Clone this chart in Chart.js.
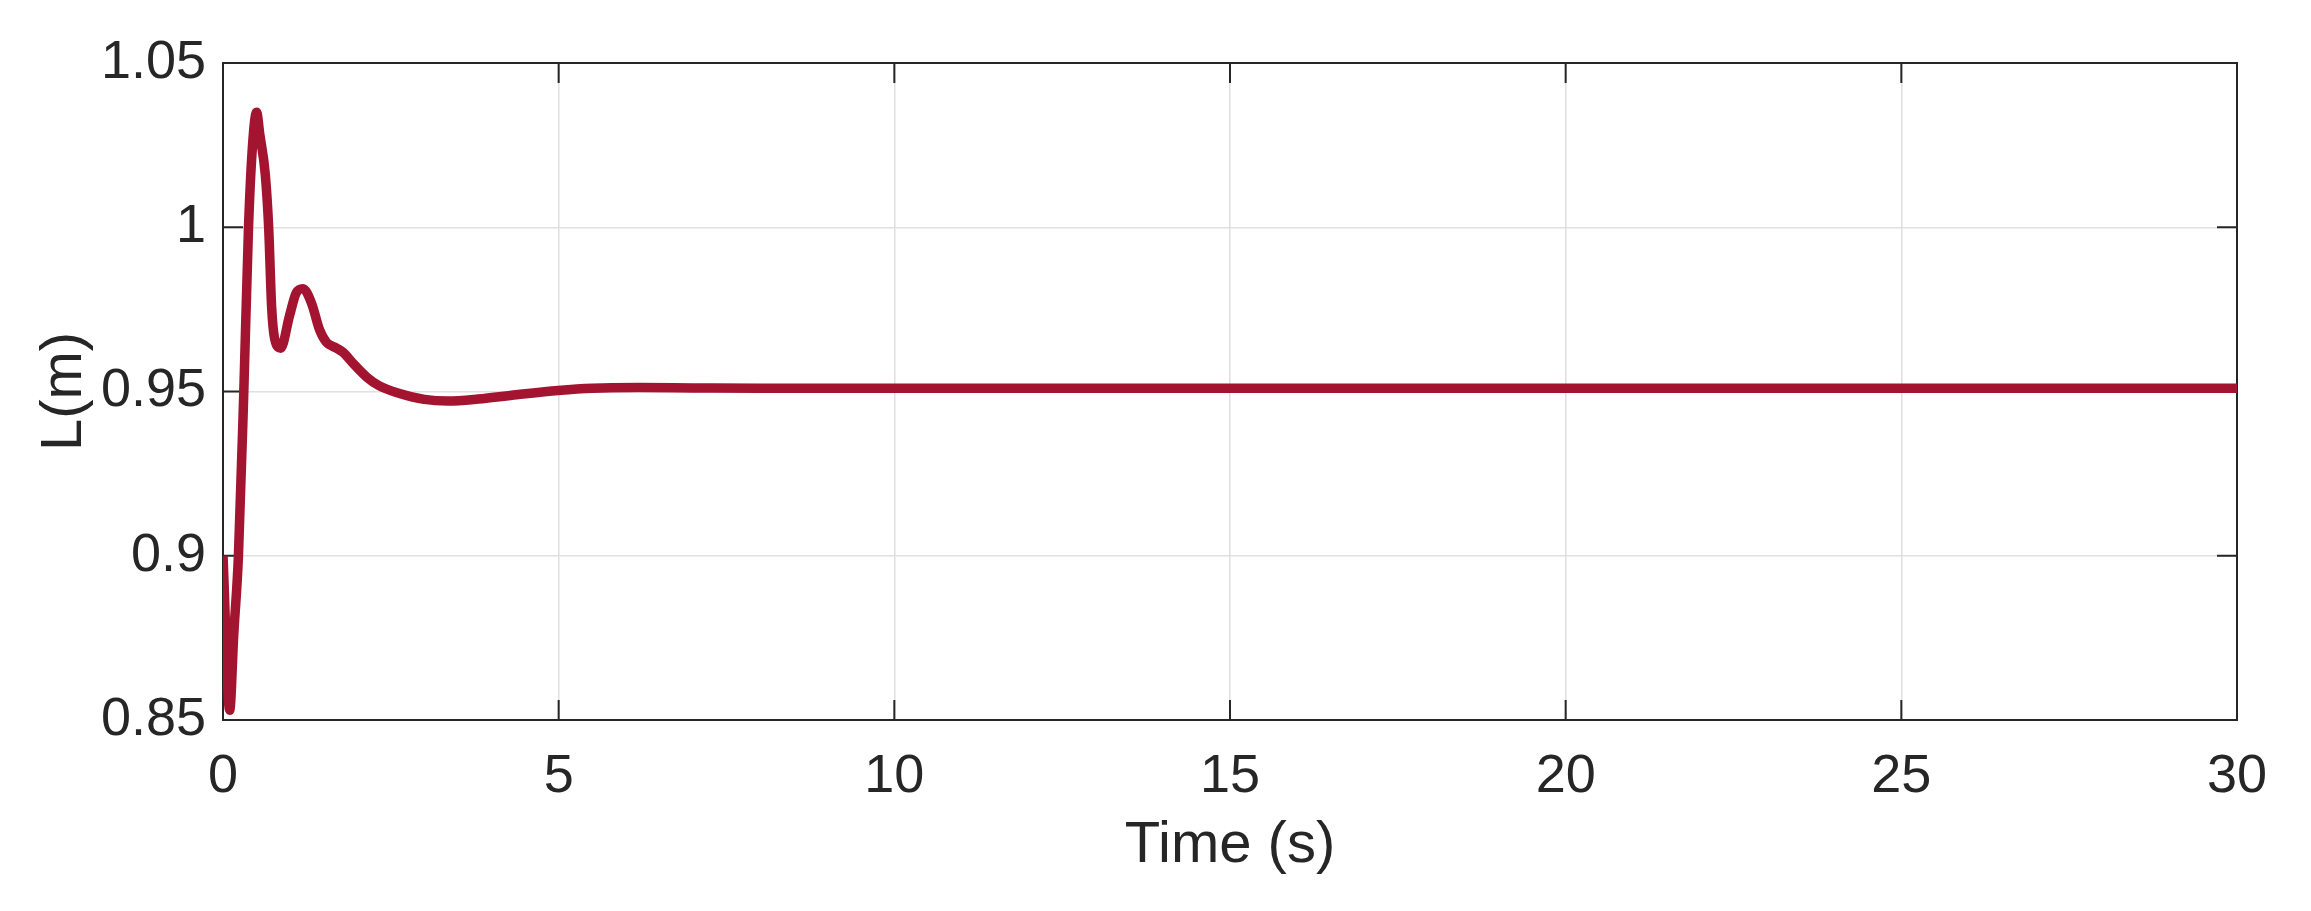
<!DOCTYPE html>
<html>
<head>
<meta charset="utf-8">
<script src="https://cdn.jsdelivr.net/npm/chart.js@4.4.0/dist/chart.umd.min.js"></script>
<style>
  html, body { margin: 0; padding: 0; background: #ffffff; }
  canvas { display: block; }
</style>
</head>
<body>
<canvas id="lengthChart" width="2311" height="911"></canvas>
<script>
// time (s) and cable length L (m)
const time = [0, 0.1, 0.16, 0.23, 0.31, 0.38, 0.44, 0.5, 0.55, 0.63, 0.68, 0.725, 0.77, 0.86,
    0.99, 1.09, 1.19, 1.32, 1.44, 1.54, 1.69, 1.79, 1.94, 2.14, 2.33, 2.63, 3.0,
    3.35, 3.8, 4.37, 4.99, 5.5, 6.2, 7, 8, 10, 15, 20, 25, 30];
const length = [0.9, 0.853, 0.876, 0.9, 0.95, 1.0, 1.025, 1.035, 1.028, 1.016, 1.0, 0.9755, 0.966, 0.9632,
    0.973, 0.98, 0.9813, 0.9768, 0.9687, 0.965, 0.9632, 0.9619, 0.9585, 0.9544, 0.9517, 0.9494, 0.9476,
    0.9471, 0.9477, 0.949, 0.9503, 0.951, 0.9512, 0.9511, 0.951, 0.951, 0.951, 0.951, 0.951, 0.951];
const xTicks = [0, 5, 10, 15, 20, 25, 30];
const yTicks = [0.85, 0.9, 0.95, 1, 1.05];
const yTickLabels = ['0.85', '0.9', '0.95', '1', '1.05'];

const points = time.map((t, i) => ({ x: t, y: length[i] }));
const axisColor = '#262626';

// MATLAB-like box with inward ticks on all four sides
const boxPlugin = {
    id: 'box',
    beforeDatasetsDraw(chart) {
        const { ctx, chartArea: a, scales } = chart;
        const len = 20;
        ctx.save();
        ctx.strokeStyle = axisColor;
        ctx.lineWidth = 2;
        ctx.beginPath();
        xTicks.forEach(v => {
            const px = scales.x.getPixelForValue(v);
            ctx.moveTo(px, a.bottom); ctx.lineTo(px, a.bottom - len);
            ctx.moveTo(px, a.top); ctx.lineTo(px, a.top + len);
        });
        yTicks.forEach(v => {
            const py = scales.y.getPixelForValue(v);
            ctx.moveTo(a.left, py); ctx.lineTo(a.left + len, py);
            ctx.moveTo(a.right, py); ctx.lineTo(a.right - len, py);
        });
        ctx.stroke();
        ctx.strokeRect(a.left, a.top, a.right - a.left, a.bottom - a.top);
        ctx.restore();
    }
};

const ctx = document.getElementById('lengthChart').getContext('2d');
const chart = new Chart(ctx, {
    type: 'line',
    data: {
        datasets: [{
            data: points,
            borderColor: '#a2142f',
            borderWidth: 9.5,
            pointRadius: 0,
            fill: false,
            cubicInterpolationMode: 'monotone'
        }]
    },
    options: {
        responsive: false,
        animation: false,
        devicePixelRatio: 1,
        layout: { padding: { left: 0, right: 74, top: 63, bottom: 0 } },
        plugins: {
            legend: { display: false },
            tooltip: { enabled: false }
        },
        scales: {
            x: {
                type: 'linear',
                min: 0,
                max: 30,
                afterBuildTicks: s => { s.ticks = xTicks.map(v => ({ value: v })); },
                afterFit: s => { s.height = 191; },
                grid: { color: '#e0e0e0', lineWidth: 1.5, drawTicks: false },
                border: { display: false },
                ticks: {
                    padding: 25,
                    color: axisColor,
                    font: { family: 'Liberation Sans', size: 54 },
                    maxRotation: 0
                },
                title: {
                    display: true,
                    text: 'Time (s)',
                    color: axisColor,
                    font: { family: 'Liberation Sans', size: 58 },
                    padding: { top: 0, bottom: 30 }
                }
            },
            y: {
                type: 'linear',
                min: 0.85,
                max: 1.05,
                afterBuildTicks: s => { s.ticks = yTicks.map(v => ({ value: v })); },
                afterFit: s => { s.width = 223; },
                grid: { color: '#e0e0e0', lineWidth: 1.5, drawTicks: false },
                border: { display: false },
                ticks: {
                    padding: 17,
                    color: axisColor,
                    font: { family: 'Liberation Sans', size: 54 },
                    callback: v => yTickLabels[yTicks.findIndex(t => Math.abs(t - v) < 1e-9)]
                },
                title: {
                    display: true,
                    text: 'L(m)',
                    color: axisColor,
                    font: { family: 'Liberation Sans', size: 58 },
                    padding: { top: 30, bottom: 0 }
                }
            }
        }
    },
    plugins: [boxPlugin]
});
</script>
</body>
</html>
